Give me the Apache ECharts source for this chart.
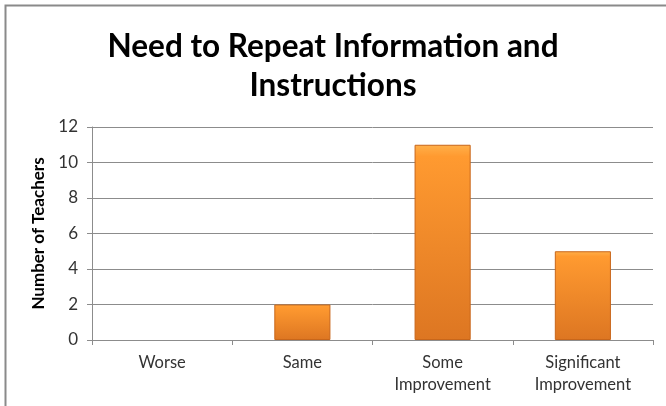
<!DOCTYPE html>
<html><head><meta charset="utf-8">
<script src="https://cdn.jsdelivr.net/npm/echarts@6/dist/echarts.min.js"></script>
<style>html,body{margin:0;padding:0;background:#fff}#c{width:666px;height:406px}</style>
</head><body><div id="c"></div>
<script>
const categories = ['Worse', 'Same', 'Some\nImprovement', 'Significant\nImprovement'];
const values = [0, 2, 11, 5];
const yTicks = [0, 2, 4, 6, 8, 10, 12];

const chart = echarts.init(document.getElementById('c'));
chart.setOption({
  animation: false,
  graphic: [{type:'rect', shape:{x:5.5,y:5.5,width:700,height:500}, style:{fill:'none', stroke:'#8a8a8a', lineWidth:2}, z:-1}],
  title: {
    text: 'Need to Repeat Information and\nInstructions',
    left: 'center', top: 22,
    textStyle: {fontFamily:'Lato', fontWeight:'bold', fontSize:31.5, color:'#000', lineHeight:39}
  },
  grid: {left: 92, right: 13, top: 127, bottom: 66},
  xAxis: {
    type: 'category', data: categories,
    axisLine: {lineStyle:{color:'#8c8c8c', width:1}},
    axisTick: {show:true, alignWithLabel:false, length:5, lineStyle:{color:'#8c8c8c'}},
    axisLabel: {color:'#333', fontFamily:'Lato', fontSize:16.5, lineHeight:22, margin:12, interval:0}
  },
  yAxis: {
    type: 'value', min: yTicks[0], max: yTicks[yTicks.length-1], interval: 2,
    name: 'Number of Teachers', nameLocation:'middle', nameGap: 44,
    nameTextStyle: {fontFamily:'Lato', fontWeight:'bold', fontSize:17, color:'#000'},
    axisLine: {show:true, lineStyle:{color:'#8c8c8c'}},
    axisTick: {show:true, length:5, lineStyle:{color:'#8c8c8c'}},
    axisLabel: {color:'#333', fontFamily:'Lato', fontSize:17, margin:14},
    splitLine: {lineStyle:{color:'#8c8c8c', width:1}}
  },
  series: [{
    type: 'bar',
    data: values.map(v => v === 0 ? {value: v, itemStyle: {borderWidth: 0, opacity: 0}} : v),
    barWidth: '40%',
    itemStyle: {
      color: new echarts.graphic.LinearGradient(0,0,0,1,[
        {offset:0, color:'#FFB04A'},{offset:0.06, color:'#FF9A30'},{offset:1, color:'#DD7622'}]),
      borderColor: '#C8661A', borderWidth: 1
    }
  }]
});
</script></body></html>
